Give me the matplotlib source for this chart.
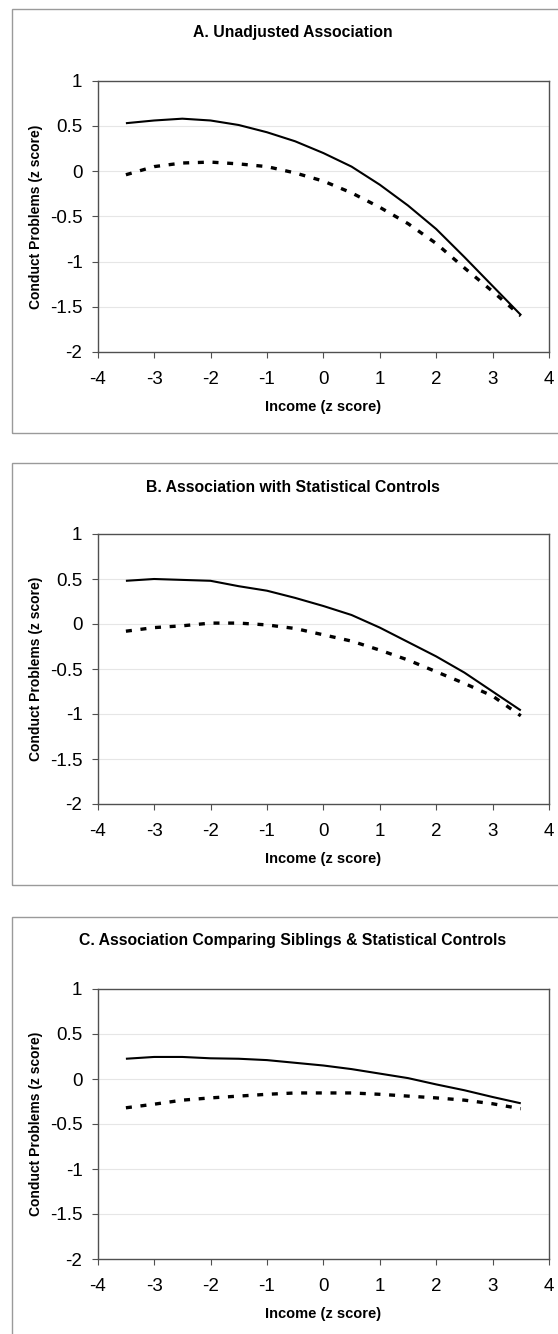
import matplotlib
matplotlib.use('Agg')
import matplotlib.pyplot as plt
from matplotlib.patches import Rectangle

plt.rcParams['font.family'] = ['Liberation Sans', 'DejaVu Sans']

# income grid (z score)
income = [-3.5, -3.0, -2.5, -2.0, -1.5, -1.0, -0.5, 0.0, 0.5, 1.0, 1.5, 2.0, 2.5, 3.0, 3.5]

# A. Unadjusted Association
a_solid = [0.53, 0.56, 0.58, 0.56, 0.51, 0.43, 0.33, 0.20, 0.05, -0.15, -0.38, -0.64, -0.95, -1.27, -1.59]
a_dashed = [-0.04, 0.05, 0.09, 0.10, 0.08, 0.05, -0.02, -0.11, -0.24, -0.40, -0.58, -0.80, -1.07, -1.33, -1.60]

# B. Association with Statistical Controls
b_solid = [0.48, 0.50, 0.49, 0.48, 0.42, 0.37, 0.29, 0.20, 0.10, -0.04, -0.20, -0.36, -0.54, -0.75, -0.96]
b_dashed = [-0.08, -0.04, -0.02, 0.01, 0.01, -0.01, -0.05, -0.12, -0.19, -0.29, -0.40, -0.53, -0.66, -0.80, -1.02]

# C. Association Comparing Siblings & Statistical Controls
c_solid = [0.225, 0.245, 0.245, 0.23, 0.225, 0.21, 0.18, 0.15, 0.11, 0.06, 0.01, -0.06, -0.125, -0.20, -0.27]
c_dashed = [-0.32, -0.28, -0.235, -0.21, -0.19, -0.17, -0.155, -0.155, -0.155, -0.17, -0.19, -0.21, -0.235, -0.275, -0.33]

titles = ["A. Unadjusted Association",
          "B. Association with Statistical Controls",
          "C. Association Comparing Siblings & Statistical Controls"]
panels = [(a_solid, a_dashed), (b_solid, b_dashed), (c_solid, c_dashed)]

W, H = 558, 1334
fig = plt.figure(figsize=(W / 100, H / 100), dpi=100)

# pixel layout: box top, box bottom, axes top, axes bottom
layout = [(9, 432.7, 80.7, 352), (463, 885, 534, 804), (917, 1345, 989, 1259)]
ax_left, ax_right = 97.7, 549
box_left, box_right = 12, 575

for (solid, dashed), title, (bt, bb, at, ab) in zip(panels, titles, layout):
    # outer chart frame
    fig.patches.append(Rectangle((box_left / W, 1 - bb / H), (box_right - box_left) / W, (bb - bt) / H,
                                 transform=fig.transFigure, fill=False, edgecolor='#9a9a9a',
                                 linewidth=1.0, clip_on=False))
    ax = fig.add_axes([ax_left / W, 1 - ab / H, (ax_right - ax_left) / W, (ab - at) / H])
    ax.plot(income, solid, color='black', linewidth=1.5, solid_capstyle='butt')
    ax.plot(income, dashed, color='black', linewidth=2.4, dashes=(1.8, 2.6), dash_capstyle='butt')
    ax.set_xlim(-4, 4)
    ax.set_ylim(-2, 1)
    ax.set_xticks([-4, -3, -2, -1, 0, 1, 2, 3, 4])
    ax.set_yticks([-2, -1.5, -1, -0.5, 0, 0.5, 1])
    ax.set_yticklabels(['-2', '-1.5', '-1', '-0.5', '0', '0.5', '1'])
    ax.set_xticklabels(['-4', '-3', '-2', '-1', '0', '1', '2', '3', '4'])
    for y in [-1.5, -1, -0.5, 0, 0.5]:
        ax.axhline(y, color='#e6e6e6', linewidth=0.8, zorder=0)
    for s in ax.spines.values():
        s.set_color('#505050')
        s.set_linewidth(1.0)
    ax.tick_params(direction='out', length=4, width=0.8, color='#505050',
                   labelsize=13.5, pad=7)
    ax.tick_params(axis='x', pad=10)
    ax.set_xlabel('Income (z score)', fontsize=10.5, fontweight='bold', labelpad=8)
    ax.set_ylabel('Conduct Problems (z score)', fontsize=10, fontweight='bold', labelpad=5)
    fig.text(293 / W, 1 - (bt + 24) / H, title, ha='center', va='center',
             fontsize=11.3, fontweight='bold')

fig.savefig('out.png', dpi=100)
